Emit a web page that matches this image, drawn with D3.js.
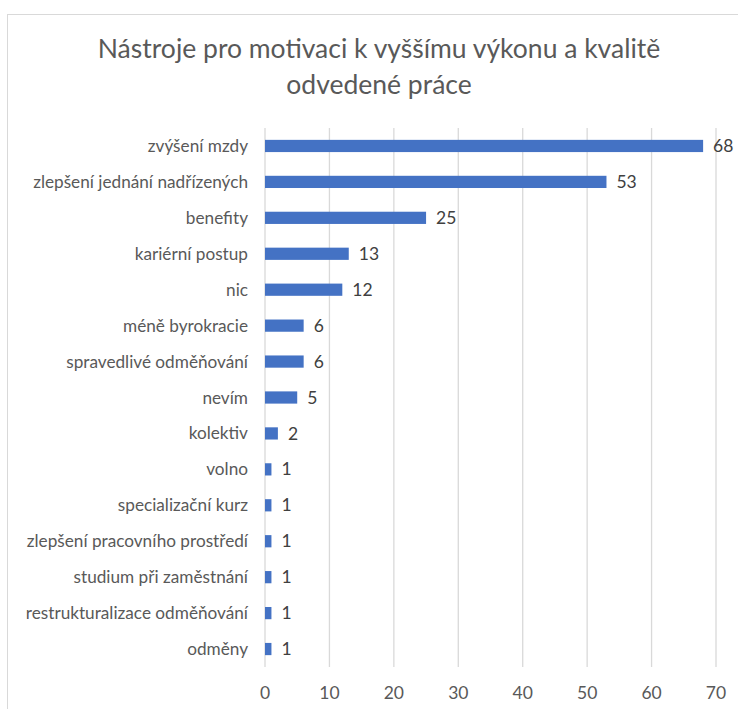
<!DOCTYPE html>
<html>
<head>
<meta charset="utf-8">
<script src="https://cdn.jsdelivr.net/npm/d3@7"></script>
<style>
    body { margin: 0; background: white; }
    text { font-family: Lato, "Open Sans", sans-serif; }
</style>
</head>
<body>
<script>
const categories = [
    "zvýšení mzdy",
    "zlepšení jednání nadřízených",
    "benefity",
    "kariérní postup",
    "nic",
    "méně byrokracie",
    "spravedlivé odměňování",
    "nevím",
    "kolektiv",
    "volno",
    "specializační kurz",
    "zlepšení pracovního prostředí",
    "studium při zaměstnání",
    "restrukturalizace odměňování",
    "odměny"
];
const values = [68, 53, 25, 13, 12, 6, 6, 5, 2, 1, 1, 1, 1, 1, 1];
const xTicks = [0, 10, 20, 30, 40, 50, 60, 70];
const titleLines = ["Nástroje pro motivaci k vyššímu výkonu a kvalitě", "odvedené práce"];

const wb = 738;
const hb = 709;
const margin = { top: 128, right: 22, bottom: 42, left: 265 };
const width = wb - (margin.left + margin.right);
const height = hb - (margin.top + margin.bottom);

const svg = d3.select("body")
    .append("svg")
    .attr("width", wb)
    .attr("height", hb);

// chart frame (cropped at right and bottom)
svg.append("rect")
    .attr("x", 7.5)
    .attr("y", 14.5)
    .attr("width", wb)
    .attr("height", hb)
    .attr("fill", "white")
    .attr("stroke", "#d9d9d9");

svg.append("text")
    .attr("text-anchor", "middle")
    .attr("fill", "#595959")
    .style("font-size", "26.5px")
    .selectAll("tspan")
    .data(titleLines)
    .join("tspan")
    .attr("x", 379)
    .attr("y", (d, i) => 58 + i * 36)
    .text(d => d);

const g = svg.append("g")
    .attr("transform", `translate(${margin.left}, ${margin.top})`);

const xax = d3.scaleLinear()
    .domain([0, 70])
    .range([0, width]);
const yax = d3.scaleBand()
    .domain(categories)
    .range([0, height])
    .paddingInner(0.66)
    .paddingOuter(0.33);

// gridlines
g.append("g")
    .attr("id", "grid")
    .selectAll("line")
    .data(xTicks)
    .join("line")
    .attr("x1", d => xax(d))
    .attr("x2", d => xax(d))
    .attr("y1", 0)
    .attr("y2", height)
    .attr("stroke", "#d9d9d9")
    .attr("stroke-width", 1.3);

// x tick labels
g.append("g")
    .attr("id", "x_axis")
    .selectAll("text")
    .data(xTicks)
    .join("text")
    .attr("x", d => xax(d))
    .attr("y", height + 32)
    .attr("text-anchor", "middle")
    .attr("fill", "#595959")
    .style("font-size", "17.5px")
    .text(d => d);

// category labels
g.append("g")
    .attr("id", "y_axis")
    .selectAll("text")
    .data(categories)
    .join("text")
    .attr("x", -17)
    .attr("y", d => yax(d) + yax.bandwidth() / 2)
    .attr("dy", "0.35em")
    .attr("text-anchor", "end")
    .attr("fill", "#595959")
    .style("font-size", "17.2px")
    .text(d => d);

// bars
g.append("g")
    .attr("id", "bars")
    .selectAll("rect")
    .data(values)
    .join("rect")
    .attr("x", xax(0))
    .attr("y", (d, i) => yax(categories[i]))
    .attr("width", d => xax(d) - xax(0))
    .attr("height", yax.bandwidth())
    .attr("fill", "#4472c4");

// value labels
g.append("g")
    .attr("id", "labels")
    .selectAll("text")
    .data(values)
    .join("text")
    .attr("x", d => xax(d) + 10)
    .attr("y", (d, i) => yax(categories[i]) + yax.bandwidth() / 2)
    .attr("dy", "0.35em")
    .attr("fill", "#404040")
    .style("font-size", "17.5px")
    .text(d => d);
</script>
</body>
</html>
